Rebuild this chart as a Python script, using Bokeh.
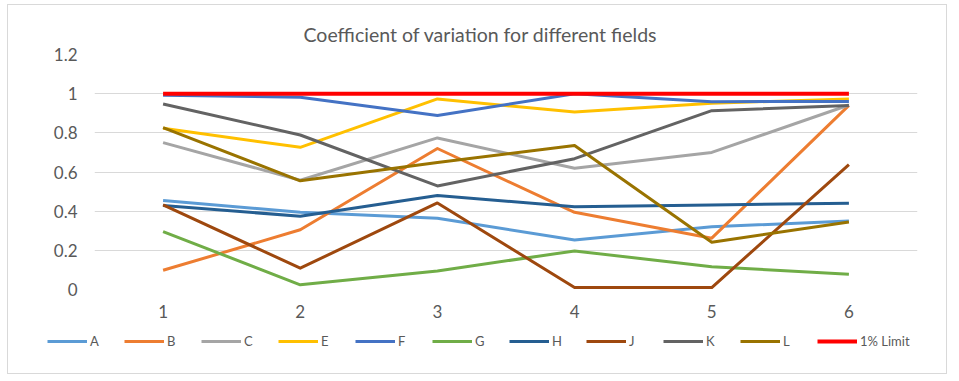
from bokeh.plotting import figure
from bokeh.layouts import column
from bokeh.models import FixedTicker, CustomJSTickFormatter, Legend, LegendItem
from bokeh.embed import file_html
from bokeh.resources import INLINE

fields = [1, 2, 3, 4, 5, 6]
A = [0.455, 0.394, 0.364, 0.253, 0.32, 0.35]
B = [0.098, 0.305, 0.72, 0.394, 0.262, 0.94]
C = [0.75, 0.558, 0.774, 0.619, 0.70, 0.942]
E = [0.823, 0.726, 0.973, 0.906, 0.951, 0.973]
F = [0.992, 0.982, 0.889, 1.0, 0.959, 0.96]
G = [0.296, 0.024, 0.095, 0.197, 0.116, 0.078]
H = [0.429, 0.374, 0.48, 0.423, 0.432, 0.44]
J = [0.432, 0.109, 0.442, 0.01, 0.01, 0.638]
K = [0.947, 0.789, 0.529, 0.668, 0.913, 0.939]
L = [0.827, 0.555, 0.648, 0.735, 0.241, 0.345]
LIMIT = [1, 1, 1, 1, 1, 1]

names = ["A", "B", "C", "E", "F", "G", "H", "J", "K", "L", "1% Limit"]
series = [A, B, C, E, F, G, H, J, K, L, LIMIT]
colors = ["#5B9BD5", "#ED7D31", "#A5A5A5", "#FFC000", "#4472C4", "#70AD47",
          "#255E91", "#9E480E", "#636363", "#997300", "#FF0000"]
y_ticks = [0, 0.2, 0.4, 0.6, 0.8, 1.0, 1.2]

FONT = "Lato"
TXT = "#595959"

p = figure(width=938, height=322, output_backend="svg", toolbar_location=None,
           x_range=(0.5, 6.5), y_range=(0, 1.2),
           title="Coefficient of variation for different fields",
           min_border_left=86, min_border_right=29, min_border_top=49, min_border_bottom=38)
p.frame_align = False
p.outline_line_color = None
p.title.align = "left"
p.title.offset = 209
p.title.standoff = 17
p.title.text_font = FONT
p.title.text_font_style = "normal"
p.title.text_font_size = "19.5px"
p.title.text_color = TXT

p.xgrid.grid_line_color = None
p.ygrid.grid_line_color = "#D9D9D9"
p.ygrid.grid_line_width = 1
p.yaxis.ticker = FixedTicker(ticks=y_ticks)
p.xaxis.ticker = FixedTicker(ticks=fields)
p.yaxis.formatter = CustomJSTickFormatter(code="return tick.toFixed(1).replace(/\\.0$/, '');")
for ax in (p.xaxis, p.yaxis):
    ax.axis_line_color = None
    ax.major_tick_line_color = None
    ax.minor_tick_line_color = None
    ax.major_label_text_font = FONT
    ax.major_label_text_font_size = "17px"
    ax.major_label_text_color = TXT
p.yaxis.major_label_standoff = 11
p.xaxis.major_label_standoff = 9

# legend strip
p2 = figure(width=938, height=46, output_backend="svg", toolbar_location=None,
            x_range=(100, 101), y_range=(100, 101),
            x_axis_location=None, y_axis_location=None,
            min_border_left=0, min_border_right=0, min_border_top=0, min_border_bottom=0)
p2.frame_align = False
p2.outline_line_color = None
p2.grid.visible = False

items = []
for name, vals, col in zip(names, series, colors):
    lw = 4 if name == "1% Limit" else 3
    p.line(fields, vals, line_color=col, line_width=lw, line_join="round")
    r2 = p2.line(fields, vals, line_color=col, line_width=lw)
    items.append(LegendItem(label=name, renderers=[r2]))

legend = Legend(items=items, orientation="horizontal", location=(39, 22),
                glyph_width=40, glyph_height=20, label_width=14, label_standoff=3,
                spacing=20, padding=0, margin=0, border_line_color=None, background_fill_alpha=0,
                label_text_font=FONT, label_text_font_size="13px", label_text_color=TXT)
p2.add_layout(legend, "center")

layout = column(p, p2, spacing=0,
                styles={"border": "1px solid #D9D9D9", "margin": "4px 0px 0px 7px"})

open("out.html", "w").write(file_html(layout, INLINE))
